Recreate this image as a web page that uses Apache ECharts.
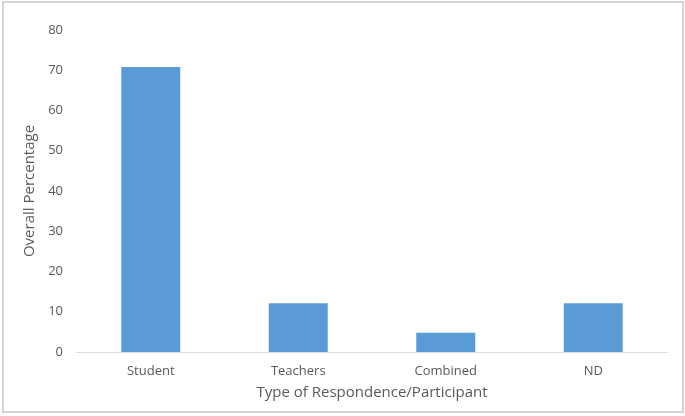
<!DOCTYPE html>
<html>
<head>
<meta charset="utf-8">
<script src="https://cdn.jsdelivr.net/npm/echarts@6/dist/echarts.min.js"></script>
<style>
  html, body { margin: 0; padding: 0; background: #fff; }
  #wrap { position: absolute; left: 2px; top: 1px; width: 678px; height: 408px; border: 2px solid #d4d4d4; }
  #chart { width: 100%; height: 100%; }
</style>
</head>
<body>
<div id="wrap"><div id="chart"></div></div>
<script>
const categories = ["Student", "Teachers", "Combined", "ND"];
const values = [70.8, 12.1, 4.8, 12.1];
const yTicks = [0, 10, 20, 30, 40, 50, 60, 70, 80];

const chart = echarts.init(document.getElementById("chart"));
const textColor = "#595959";
const font = "'Open Sans', 'Liberation Sans', sans-serif";

chart.setOption({
  animation: false,
  grid: { left: 73, right: 15, top: 27, bottom: 59 },
  xAxis: {
    type: "category",
    data: categories,
    name: "Type of Respondence/Participant",
    nameLocation: "middle",
    nameGap: 33,
    nameTextStyle: { color: textColor, fontSize: 15, fontFamily: font },
    axisLine: { lineStyle: { color: "#d9d9d9", width: 1 } },
    axisTick: { show: false },
    axisLabel: { color: textColor, fontSize: 13, fontFamily: font, margin: 13 },
  },
  yAxis: {
    type: "value",
    min: yTicks[0],
    max: yTicks[yTicks.length - 1],
    interval: 10,
    name: "Overall Percentage",
    nameLocation: "middle",
    nameGap: 31,
    nameTextStyle: { color: textColor, fontSize: 15, fontFamily: font },
    axisLine: { show: false },
    axisTick: { show: false },
    splitLine: { show: false },
    axisLabel: { color: textColor, fontSize: 13, fontFamily: font, margin: 14 },
  },
  series: [
    {
      type: "bar",
      data: values,
      barWidth: "40%",
      itemStyle: { color: "#5b9bd5" },
    },
  ],
});
</script>
</body>
</html>
